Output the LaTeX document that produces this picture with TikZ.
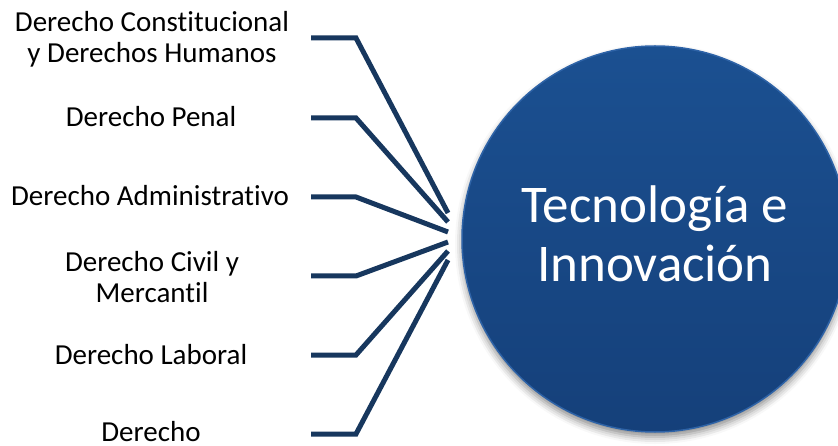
\documentclass[tikz,border=0pt]{standalone}
\usepackage{fontspec}
\setmainfont{Carlito}[Ligatures=NoCommon]
\usetikzlibrary{shadows.blur}
\definecolor{navy}{HTML}{17375E}
\definecolor{hubtop}{HTML}{1B5091}
\definecolor{hubbot}{HTML}{15407A}
\definecolor{hubrim}{HTML}{3A70B6}
\begin{document}
\begin{tikzpicture}[x=1pt,y=-1pt,
  lbl/.style={font=\fontsize{29}{31}\selectfont, align=center, text=black, inner sep=0pt},
  conn/.style={draw=navy, line width=5pt, line join=miter},
  hub/.style={circle, minimum size=386pt, inner sep=0pt,
    top color=hubtop, bottom color=hubbot,
    draw=hubrim!60!hubtop, line width=1.5pt,
    blur shadow={shadow xshift=0pt, shadow yshift=-5pt, shadow blur radius=7pt, shadow opacity=45}},
  hubtext/.style={text=white, font=\fontsize{53}{59}\selectfont, align=center, inner sep=0pt}]
\useasboundingbox (0,0) rectangle (838,446);

\node[hub] (hub) at (655,239) {};
\node[hubtext] (ht) at (655,234) {Tecnología e\\Innovación};

\node[lbl] (l1) at (152,39) {Derecho Constitucional\\y Derechos Humanos};
\node[lbl, anchor=base] (l2) at (151,127) {Derecho Penal};
\node[lbl, anchor=base] (l3) at (150,206) {Derecho Administrativo};
\node[lbl] (l4) at (152,277) {Derecho Civil y\\Mercantil};
\node[lbl, anchor=base] (l5) at (151,364) {Derecho Laboral};
\node[lbl, anchor=base] (l6) at (151,441) {Derecho};

\coordinate (s1) at (311,38);  \coordinate (k1) at (356,38);  \coordinate (e1) at (448,213);
\coordinate (s2) at (311,118); \coordinate (k2) at (356,118); \coordinate (e2) at (448,222);
\coordinate (s3) at (311,197); \coordinate (k3) at (356,197); \coordinate (e3) at (448,232);
\coordinate (s4) at (311,276); \coordinate (k4) at (356,276); \coordinate (e4) at (448,242);
\coordinate (s5) at (311,355); \coordinate (k5) at (356,355); \coordinate (e5) at (448,251);
\coordinate (s6) at (311,434); \coordinate (k6) at (356,434); \coordinate (e6) at (448,260);

\foreach \i in {1,...,6}{\draw[conn] (s\i) -- (k\i) -- (e\i);}
\end{tikzpicture}
\end{document}
